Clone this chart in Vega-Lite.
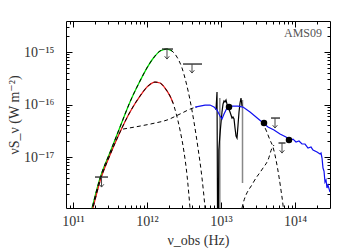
{
 "$schema": "https://vega.github.io/schema/vega-lite/v6.json",
 "width": 264, "height": 187, "autosize": "none",
 "padding": {"left": 66, "top": 21, "right": 20, "bottom": 42},
 "background": "white",
 "config": {
  "view": {"stroke": "#000", "strokeWidth": 1},
  "axis": {"labelFont": "Liberation Serif, DejaVu Serif", "labelFontSize": 14, "labelColor": "#333", "titleFont": "Liberation Serif, DejaVu Serif", "titleFontSize": 14, "titleFontWeight": "normal", "titleColor": "#333", "tickColor": "#000", "tickWidth": 1, "domain": false, "grid": false, "labelOverlap": false, "labelFlush": false, "labelBound": false}
 },
 "datasets": {
  "solid": [
   {"comp": "green", "nu": 1.645e11, "S": 6.3e-19}, {"comp": "green", "nu": 1.81e11, "S": 1.07e-18}, {"comp": "green", "nu": 2.32e11, "S": 3.98e-18}, {"comp": "green", "nu": 3.26e11, "S": 1.36e-17}, {"comp": "green", "nu": 4.32e11, "S": 3.73e-17}, {"comp": "green", "nu": 5.89e11, "S": 1.12e-16}, {"comp": "green", "nu": 8.04e11, "S": 2.81e-16}, {"comp": "green", "nu": 1.032e12, "S": 5.41e-16}, {"comp": "green", "nu": 1.282e12, "S": 8.39e-16}, {"comp": "green", "nu": 1.499e12, "S": 1.045e-15}, {"comp": "green", "nu": 1.862e12, "S": 1.141e-15}, {"comp": "green", "nu": 2.177e12, "S": 1.045e-15},
   {"comp": "red", "nu": 1.69e11, "S": 6.3e-19}, {"comp": "red", "nu": 1.86e11, "S": 1.07e-18}, {"comp": "red", "nu": 2.32e11, "S": 3.49e-18}, {"comp": "red", "nu": 3.16e11, "S": 1.09e-17}, {"comp": "red", "nu": 4.32e11, "S": 2.99e-17}, {"comp": "red", "nu": 5.89e11, "S": 7.2e-17}, {"comp": "red", "nu": 8.04e11, "S": 1.45e-16}, {"comp": "red", "nu": 1.032e12, "S": 2.25e-16}, {"comp": "red", "nu": 1.282e12, "S": 2.68e-16}, {"comp": "red", "nu": 1.499e12, "S": 2.57e-16}, {"comp": "red", "nu": 1.75e12, "S": 2.06e-16}, {"comp": "red", "nu": 2.046e12, "S": 1.45e-16}, {"comp": "red", "nu": 2.245e12, "S": 1.07e-16}
  ],
  "dashed": [
   {"comp": "gb1", "nu": 1.645e11, "S": 6.3e-19}, {"comp": "gb1", "nu": 1.81e11, "S": 1.07e-18}, {"comp": "gb1", "nu": 2.32e11, "S": 3.98e-18}, {"comp": "gb1", "nu": 3.26e11, "S": 1.36e-17}, {"comp": "gb1", "nu": 4.32e11, "S": 3.73e-17}, {"comp": "gb1", "nu": 5.89e11, "S": 1.12e-16}, {"comp": "gb1", "nu": 8.04e11, "S": 2.81e-16}, {"comp": "gb1", "nu": 1.032e12, "S": 5.41e-16}, {"comp": "gb1", "nu": 1.282e12, "S": 8.39e-16}, {"comp": "gb1", "nu": 1.499e12, "S": 1.045e-15}, {"comp": "gb1", "nu": 1.862e12, "S": 1.141e-15}, {"comp": "gb1", "nu": 2.177e12, "S": 1.045e-15}, {"comp": "gb1", "nu": 2.541e12, "S": 8.03e-16}, {"comp": "gb1", "nu": 2.972e12, "S": 4.96e-16}, {"comp": "gb1", "nu": 3.365e12, "S": 2.68e-16}, {"comp": "gb1", "nu": 3.811e12, "S": 1.22e-16}, {"comp": "gb1", "nu": 4.315e12, "S": 4.64e-17}, {"comp": "gb1", "nu": 4.887e12, "S": 1.48e-17}, {"comp": "gb1", "nu": 5.535e12, "S": 3.98e-18}, {"comp": "gb1", "nu": 6.08e12, "S": 1.07e-18}, {"comp": "gb1", "nu": 6.27e12, "S": 6.3e-19},
   {"comp": "gb2", "nu": 1.69e11, "S": 6.3e-19}, {"comp": "gb2", "nu": 1.86e11, "S": 1.07e-18}, {"comp": "gb2", "nu": 2.32e11, "S": 3.49e-18}, {"comp": "gb2", "nu": 3.16e11, "S": 1.09e-17}, {"comp": "gb2", "nu": 4.32e11, "S": 2.99e-17}, {"comp": "gb2", "nu": 5.89e11, "S": 7.2e-17}, {"comp": "gb2", "nu": 8.04e11, "S": 1.45e-16}, {"comp": "gb2", "nu": 1.032e12, "S": 2.25e-16}, {"comp": "gb2", "nu": 1.282e12, "S": 2.68e-16}, {"comp": "gb2", "nu": 1.499e12, "S": 2.57e-16}, {"comp": "gb2", "nu": 1.75e12, "S": 2.06e-16}, {"comp": "gb2", "nu": 2.046e12, "S": 1.45e-16}, {"comp": "gb2", "nu": 2.245e12, "S": 1.07e-16}, {"comp": "gb2", "nu": 2.465e12, "S": 6.89e-17}, {"comp": "gb2", "nu": 2.793e12, "S": 3.27e-17}, {"comp": "gb2", "nu": 3.162e12, "S": 1.245e-17}, {"comp": "gb2", "nu": 3.471e12, "S": 4.54e-18}, {"comp": "gb2", "nu": 3.811e12, "S": 1.07e-18}, {"comp": "gb2", "nu": 3.93e12, "S": 6.3e-19},
   {"comp": "warm1", "nu": 4.74e11, "S": 3.41e-17}, {"comp": "warm1", "nu": 8.04e11, "S": 3.89e-17}, {"comp": "warm1", "nu": 1.282e12, "S": 4.44e-17}, {"comp": "warm1", "nu": 1.862e12, "S": 5.07e-17}, {"comp": "warm1", "nu": 2.793e12, "S": 6.6e-17}, {"comp": "warm1", "nu": 4.184e12, "S": 8.58e-17}, {"comp": "warm1", "nu": 4.738e12, "S": 8.96e-17},
   {"comp": "warm2", "nu": 3.58e13, "S": 4.64e-17}, {"comp": "warm2", "nu": 4.055e13, "S": 3.27e-17}, {"comp": "warm2", "nu": 4.59e13, "S": 2.11e-17}, {"comp": "warm2", "nu": 5.04e13, "S": 1.55e-17}, {"comp": "warm2", "nu": 5.54e13, "S": 8.77e-18}, {"comp": "warm2", "nu": 6.08e13, "S": 4.16e-18}, {"comp": "warm2", "nu": 6.46e13, "S": 2.35e-18}, {"comp": "warm2", "nu": 6.88e13, "S": 1.22e-18}, {"comp": "warm2", "nu": 7.1e13, "S": 7.85e-19},
   {"comp": "hot", "nu": 1.862e13, "S": 7.85e-19}, {"comp": "hot", "nu": 1.923e13, "S": 1.07e-18}, {"comp": "hot", "nu": 2.705e13, "S": 3.2e-18}, {"comp": "hot", "nu": 3.694e13, "S": 6.17e-18}, {"comp": "hot", "nu": 4.315e13, "S": 8.77e-18}, {"comp": "hot", "nu": 4.887e13, "S": 1.48e-17}, {"comp": "hot", "nu": 5.2e13, "S": 1.69e-17}
  ],
  "blue": [
   {"nu": 4.452e12, "S": 8.96e-17}, {"nu": 5.2e12, "S": 9.36e-17}, {"nu": 6.08e12, "S": 9.78e-17}, {"nu": 7.1e12, "S": 9.78e-17}, {"nu": 8.04e12, "S": 8.96e-17}, {"nu": 8.83e12, "S": 7.86e-17}, {"nu": 9.69e12, "S": 6.04e-17}, {"nu": 1.031e13, "S": 5.3e-17}, {"nu": 1.098e13, "S": 6.6e-17}, {"nu": 1.205e13, "S": 8.58e-17}, {"nu": 1.408e13, "S": 9.36e-17}, {"nu": 1.698e13, "S": 9.36e-17}, {"nu": 1.983e13, "S": 8.96e-17}, {"nu": 2.466e13, "S": 7.2e-17}, {"nu": 2.971e13, "S": 5.78e-17}, {"nu": 3.58e13, "S": 4.64e-17}, {"nu": 4.315e13, "S": 3.73e-17}, {"nu": 5.2e13, "S": 3.27e-17}, {"nu": 6.27e13, "S": 2.74e-17}, {"nu": 7.55e13, "S": 2.4e-17}, {"nu": 8.55e13, "S": 2.11e-17}, {"nu": 9.4e13, "S": 2.2e-17}, {"nu": 1.031e14, "S": 1.93e-17}, {"nu": 1.132e14, "S": 2.02e-17}, {"nu": 1.243e14, "S": 1.77e-17}, {"nu": 1.365e14, "S": 1.77e-17}, {"nu": 1.499e14, "S": 1.48e-17}, {"nu": 1.645e14, "S": 1.55e-17}, {"nu": 1.751e14, "S": 1.36e-17}, {"nu": 1.983e14, "S": 1.245e-17}, {"nu": 2.177e14, "S": 1.14e-17}, {"nu": 2.245e14, "S": 1.19e-17}, {"nu": 2.317e14, "S": 9.57e-18}, {"nu": 2.388e14, "S": 6.17e-18}, {"nu": 2.465e14, "S": 5.41e-18}, {"nu": 2.541e14, "S": 3.34e-18}, {"nu": 2.624e14, "S": 3.65e-18}, {"nu": 2.705e14, "S": 2.57e-18}, {"nu": 2.79e14, "S": 2.93e-18}, {"nu": 2.97e14, "S": 2.15e-18}
  ],
  "irs": [
   {"nu": 8.55e12, "S": 7.86e-17}, {"nu": 8.83e12, "S": 1.73e-16}, {"nu": 8.99e12, "S": 4.1e-19}, {"nu": 9.19e12, "S": 4.1e-19}, {"nu": 9.34e12, "S": 1.36e-17}, {"nu": 9.55e12, "S": 2.11e-17}, {"nu": 9.85e12, "S": 3.57e-17}, {"nu": 1.031e13, "S": 7.2e-17}, {"nu": 1.064e13, "S": 1.02e-16}, {"nu": 1.098e13, "S": 1.17e-16}, {"nu": 1.132e13, "S": 1.12e-16}, {"nu": 1.168e13, "S": 1.22e-16}, {"nu": 1.205e13, "S": 1.02e-16}, {"nu": 1.243e13, "S": 8.96e-17}, {"nu": 1.282e13, "S": 8.21e-17}, {"nu": 1.323e13, "S": 7.2e-17}, {"nu": 1.365e13, "S": 6.31e-17}, {"nu": 1.408e13, "S": 5.53e-17}, {"nu": 1.452e13, "S": 5.78e-17}, {"nu": 1.499e13, "S": 5.3e-17}, {"nu": 1.546e13, "S": 3.57e-17}, {"nu": 1.595e13, "S": 2.51e-17}, {"nu": 1.645e13, "S": 2.3e-17}, {"nu": 1.698e13, "S": 4.07e-17}, {"nu": 1.751e13, "S": 7.2e-17}, {"nu": 1.807e13, "S": 1.07e-16}, {"nu": 1.862e13, "S": 1.33e-16}, {"nu": 1.923e13, "S": 9.36e-17}
  ],
  "irsgrey": [
   {"nu": 9.64e12, "S": 1.33e-16, "S2": 4.1e-19}, {"nu": 1.952e13, "S": 1.22e-16, "S2": 3.2e-18}
  ],
  "det": [
   {"nu": 1.282e13, "S": 8.96e-17}, {"nu": 3.811e13, "S": 4.44e-17}, {"nu": 8.29e13, "S": 2.11e-17}
  ],
  "ul": [
   {"nu": 2.43e11, "lo": 1.98e11, "hi": 2.97e11, "S": 4.16e-18, "tip": 2.68e-18},
   {"nu": 1.862e12, "lo": 1.595e12, "hi": 2.245e12, "S": 1.141e-15, "tip": 7.35e-16},
   {"nu": 4.055e12, "lo": 3.066e12, "hi": 5.535e12, "S": 5.91e-16, "tip": 3.98e-16},
   {"nu": 5.366e13, "lo": 4.74e13, "hi": 6.27e13, "S": 5.53e-17, "tip": 3.57e-17},
   {"nu": 6.67e13, "lo": 5.98e13, "hi": 7.44e13, "S": 1.85e-17, "tip": 1.19e-17}
  ],
  "label": [{"nu": 2.317e14, "S": 1.93e-15, "txt": "AMS09"}]
 },
 "layer": [
  {
   "data": {"name": "solid"},
   "mark": {"type": "line", "strokeWidth": 1.3, "interpolate": "monotone", "clip": true},
   "encoding": {
    "x": {"field": "nu", "type": "quantitative", "scale": {"type": "log", "domain": [8.04e10, 2.97e14], "nice": false},
     "axis": {"orient": "bottom", "values": [9e10, 1e11, 2e11, 3e11, 4e11, 5e11, 6e11, 7e11, 8e11, 9e11, 1e12, 2e12, 3e12, 4e12, 5e12, 6e12, 7e12, 8e12, 9e12, 1e13, 2e13, 3e13, 4e13, 5e13, 6e13, 7e13, 8e13, 9e13, 1e14, 2e14],
      "labelExpr": "datum.value==1e11?'10¹¹':datum.value==1e12?'10¹²':datum.value==1e13?'10¹³':datum.value==1e14?'10¹⁴':''",
      "tickSize": {"condition": {"test": "datum.value==1e11||datum.value==1e12||datum.value==1e13||datum.value==1e14", "value": -6}, "value": -3},
      "labelPadding": 12, "title": "ν_obs (Hz)", "titleX": 132, "titleY": 32, "titleBaseline": "middle", "titleAlign": "center"}},
    "y": {"field": "S", "type": "quantitative", "scale": {"type": "log", "domain": [1.07e-18, 3.9e-15], "nice": false},
     "axis": {"orient": "left", "values": [2e-18, 3e-18, 4e-18, 5e-18, 6e-18, 7e-18, 8e-18, 9e-18, 1e-17, 2e-17, 3e-17, 4e-17, 5e-17, 6e-17, 7e-17, 8e-17, 9e-17, 1e-16, 2e-16, 3e-16, 4e-16, 5e-16, 6e-16, 7e-16, 8e-16, 9e-16, 1e-15, 2e-15, 3e-15],
      "labelExpr": "datum.value==1e-17?'10⁻¹⁷':datum.value==1e-16?'10⁻¹⁶':datum.value==1e-15?'10⁻¹⁵':''",
      "tickSize": {"condition": {"test": "datum.value==1e-17||datum.value==1e-16||datum.value==1e-15", "value": -6}, "value": -3},
      "labelPadding": 18, "title": "νS_ν (W m⁻²)", "titleX": -52, "titleY": 93.5, "titleBaseline": "middle", "titleAlign": "center", "titleAngle": -90}},
    "color": {"field": "comp", "type": "nominal", "scale": {"domain": ["green", "red"], "range": ["#00e000", "#ee1c1c"]}, "legend": null}
   }
  },
  {
   "data": {"name": "dashed"},
   "mark": {"type": "line", "strokeWidth": 1, "strokeDash": [4, 3], "color": "#000", "interpolate": "monotone", "clip": true},
   "encoding": {
    "x": {"field": "nu", "type": "quantitative",
     "axis": {"orient": "top", "values": [9e10, 1e11, 2e11, 3e11, 4e11, 5e11, 6e11, 7e11, 8e11, 9e11, 1e12, 2e12, 3e12, 4e12, 5e12, 6e12, 7e12, 8e12, 9e12, 1e13, 2e13, 3e13, 4e13, 5e13, 6e13, 7e13, 8e13, 9e13, 1e14, 2e14], "labels": false, "title": null,
      "tickSize": {"condition": {"test": "datum.value==1e11||datum.value==1e12||datum.value==1e13||datum.value==1e14", "value": -6}, "value": -3}}},
    "y": {"field": "S", "type": "quantitative",
     "axis": {"orient": "right", "values": [2e-18, 3e-18, 4e-18, 5e-18, 6e-18, 7e-18, 8e-18, 9e-18, 1e-17, 2e-17, 3e-17, 4e-17, 5e-17, 6e-17, 7e-17, 8e-17, 9e-17, 1e-16, 2e-16, 3e-16, 4e-16, 5e-16, 6e-16, 7e-16, 8e-16, 9e-16, 1e-15, 2e-15, 3e-15], "labels": false, "title": null,
      "tickSize": {"condition": {"test": "datum.value==1e-17||datum.value==1e-16||datum.value==1e-15", "value": -6}, "value": -3}}},
    "detail": {"field": "comp", "type": "nominal"}
   }
  },
  {
   "data": {"name": "irsgrey"},
   "mark": {"type": "rule", "color": "#888", "strokeWidth": 1.5, "clip": true},
   "encoding": {"x": {"field": "nu", "type": "quantitative", "axis": null}, "y": {"field": "S", "type": "quantitative", "axis": null}, "y2": {"field": "S2"}}
  },
  {
   "data": {"name": "irs"},
   "mark": {"type": "line", "color": "#000", "strokeWidth": 1.2, "clip": true},
   "encoding": {"x": {"field": "nu", "type": "quantitative", "axis": null}, "y": {"field": "S", "type": "quantitative", "axis": null}}
  },
  {
   "data": {"name": "blue"},
   "mark": {"type": "line", "color": "#1010f0", "strokeWidth": 1.2, "clip": true},
   "encoding": {"x": {"field": "nu", "type": "quantitative", "axis": null}, "y": {"field": "S", "type": "quantitative", "axis": null}}
  },
  {
   "data": {"name": "det"},
   "mark": {"type": "point", "filled": true, "color": "#000", "size": 42, "opacity": 1},
   "encoding": {"x": {"field": "nu", "type": "quantitative", "axis": null}, "y": {"field": "S", "type": "quantitative", "axis": null}}
  },
  {
   "data": {"name": "ul"},
   "mark": {"type": "rule", "color": "#222", "strokeWidth": 1.3},
   "encoding": {"x": {"field": "lo", "type": "quantitative", "axis": null}, "x2": {"field": "hi"}, "y": {"field": "S", "type": "quantitative", "axis": null}}
  },
  {
   "data": {"name": "ul"},
   "mark": {"type": "rule", "color": "#444", "strokeWidth": 1},
   "encoding": {"x": {"field": "nu", "type": "quantitative", "axis": null}, "y": {"field": "S", "type": "quantitative", "axis": null}, "y2": {"field": "tip"}}
  },
  {
   "data": {"name": "ul"},
   "mark": {"type": "point", "shape": "M-1,-1.2L0,0L1,-1.2", "filled": false, "color": "#444", "strokeWidth": 1, "size": 22, "opacity": 1},
   "encoding": {"x": {"field": "nu", "type": "quantitative", "axis": null}, "y": {"field": "tip", "type": "quantitative", "axis": null}}
  },
  {
   "data": {"name": "label"},
   "mark": {"type": "text", "font": "Liberation Serif, DejaVu Serif", "fontSize": 12, "color": "#555", "align": "right", "baseline": "alphabetic"},
   "encoding": {"x": {"field": "nu", "type": "quantitative", "axis": null}, "y": {"field": "S", "type": "quantitative", "axis": null}, "text": {"field": "txt"}}
  }
 ],
 "resolve": {"axis": {"x": "independent", "y": "independent"}}
}
